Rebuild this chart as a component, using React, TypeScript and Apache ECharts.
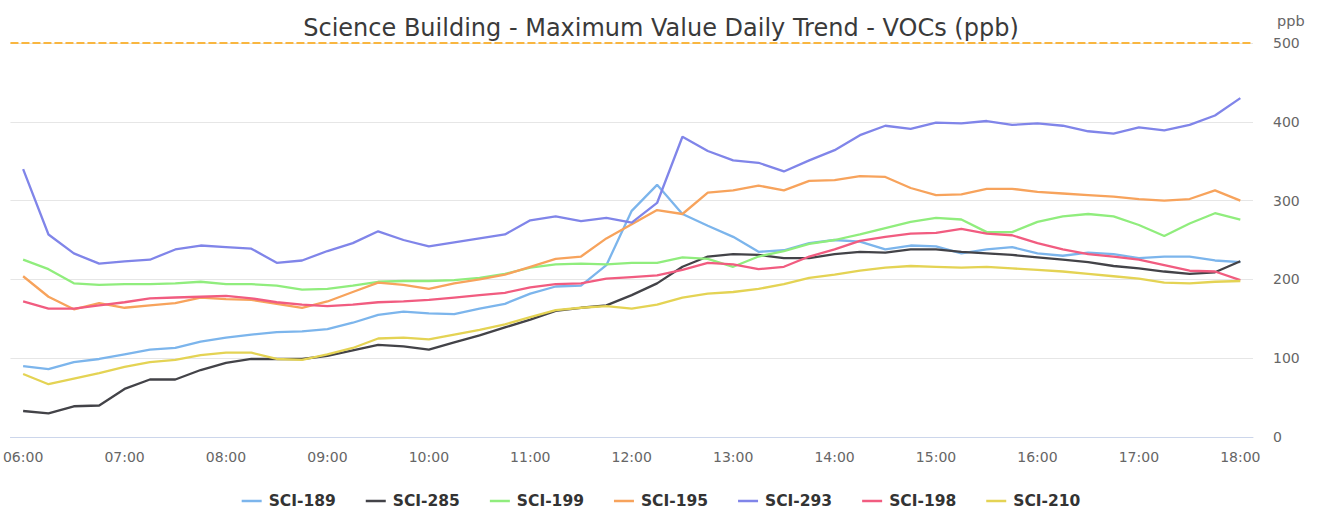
import React, { useEffect, useRef } from "react";
import * as echarts from "echarts";

const times = [
  "06:00", "06:15", "06:30", "06:45", "07:00", "07:15", "07:30", "07:45",
  "08:00", "08:15", "08:30", "08:45", "09:00", "09:15", "09:30", "09:45",
  "10:00", "10:15", "10:30", "10:45", "11:00", "11:15", "11:30", "11:45",
  "12:00", "12:15", "12:30", "12:45", "13:00", "13:15", "13:30", "13:45",
  "14:00", "14:15", "14:30", "14:45", "15:00", "15:15", "15:30", "15:45",
  "16:00", "16:15", "16:30", "16:45", "17:00", "17:15", "17:30", "17:45",
  "18:00",
];

const sci189 = [
  90, 86, 95, 99, 105, 111, 113, 121, 126, 130, 133, 134, 137, 145, 155, 159, 157,
  156, 163, 169, 182, 191, 192, 218, 287, 320, 283, 268, 254, 235, 237, 246, 250,
  248, 238, 243, 242, 233, 238, 241, 233, 230, 234, 232, 227, 229, 229, 224, 222,
];
const sci285 = [
  33, 30, 39, 40, 61, 73, 73, 85, 94, 99, 99, 99, 103, 110, 117, 115, 111,
  120, 129, 139, 149, 160, 164, 167, 180, 195, 216, 229, 232, 231, 227, 227, 232,
  235, 234, 238, 238, 235, 233, 231, 228, 225, 222, 217, 214, 210, 207, 209, 223,
];
const sci199 = [
  225, 213, 195, 193, 194, 194, 195, 197, 194, 194, 192, 187, 188, 192, 197, 198, 198,
  199, 202, 207, 215, 219, 220, 219, 221, 221, 228, 226, 216, 229, 236, 245, 250,
  257, 265, 273, 278, 276, 260, 260, 273, 280, 283, 280, 269, 255, 271, 284, 276,
];
const sci195 = [
  204, 178, 162, 170, 164, 167, 170, 177, 175, 174, 169, 164, 172, 184, 196, 193, 188,
  195, 200, 206, 216, 226, 229, 252, 270, 288, 283, 310, 313, 319, 313, 325, 326,
  331, 330, 316, 307, 308, 315, 315, 311, 309, 307, 305, 302, 300, 302, 313, 300,
];
const sci293 = [
  340, 257, 233, 220, 223, 225, 238, 243, 241, 239, 221, 224, 236, 246, 261, 250, 242,
  247, 252, 257, 275, 280, 274, 278, 272, 297, 381, 363, 351, 348, 337, 351, 364,
  383, 395, 391, 399, 398, 401, 396, 398, 395, 388, 385, 393, 389, 396, 408, 430,
];
const sci198 = [
  172, 163, 163, 167, 171, 176, 177, 178, 179, 176, 171, 168, 166, 168, 171, 172, 174,
  177, 180, 183, 190, 194, 195, 201, 203, 205, 212, 221, 219, 213, 216, 229, 238,
  249, 254, 258, 259, 264, 258, 256, 246, 238, 232, 229, 225, 218, 211, 210, 199,
];
const sci210 = [
  80, 67, 74, 81, 89, 95, 98, 104, 107, 107, 99, 98, 105, 113, 125, 126, 124,
  130, 136, 143, 152, 161, 164, 166, 163, 168, 177, 182, 184, 188, 194, 202, 206,
  211, 215, 217, 216, 215, 216, 214, 212, 210, 207, 204, 201, 196, 195, 197, 198,
];

const seriesNames = ["SCI-189", "SCI-285", "SCI-199", "SCI-195", "SCI-293", "SCI-198", "SCI-210"];
const seriesData = [sci189, sci285, sci199, sci195, sci293, sci198, sci210];
const colors = ["#7cb5ec", "#434348", "#90ed7d", "#f7a35c", "#8085e9", "#f15c80", "#e4d354"];
const yTicks = [0, 100, 200, 300, 400, 500];
const thresholdValue = 500;

const FONT = "DejaVu Sans";

export default function App() {
  const ref = useRef<HTMLDivElement>(null);
  useEffect(() => {
    if (!ref.current) return;
    const chart = echarts.init(ref.current, null, { renderer: "svg" });
    const series: any[] = seriesNames.map((name, i) => ({
      name,
      type: "line",
      data: seriesData[i],
      showSymbol: false,
      symbol: "none",
      lineStyle: { width: 2.3, color: colors[i] },
      itemStyle: { color: colors[i] },
      z: 2,
    }));
    series[0].markLine = {
      silent: true,
      symbol: "none",
      label: { show: false },
      lineStyle: { color: "#f9b640", type: [8, 3], width: 2 },
      data: [{ yAxis: thresholdValue }],
    };
    chart.setOption({
      animation: false,
      color: colors,
      textStyle: { fontFamily: FONT },
      title: {
        text: "Science Building - Maximum Value Daily Trend - VOCs (ppb)",
        left: "center",
        top: 11,
        textStyle: { fontFamily: FONT, fontSize: 24, fontWeight: "normal", color: "#3a3a3a" },
      },
      legend: {
        top: 488,
        left: "center",
        icon: "rect",
        itemWidth: 20,
        itemHeight: 2.5,
        itemGap: 30,
        textStyle: { fontFamily: FONT, fontSize: 15.5, fontWeight: "bold", color: "#333333", padding: [0, 0, 0, 2] },
        data: seriesNames,
      },
      grid: { left: 6, right: 69, top: 43, bottom: 75, containLabel: false },
      xAxis: {
        type: "category",
        data: times,
        boundaryGap: true,
        axisLine: { lineStyle: { color: "#ccd6eb" } },
        axisTick: { alignWithLabel: true, interval: 3, length: 10, lineStyle: { color: "#ccd6eb" } },
        axisLabel: { interval: 3, color: "#666666", fontSize: 14, fontFamily: FONT, margin: 13 },
      },
      yAxis: {
        type: "value",
        position: "right",
        min: yTicks[0],
        max: yTicks[yTicks.length - 1],
        interval: 100,
        name: "ppb",
        nameLocation: "end",
        nameGap: 15,
        nameTextStyle: { color: "#666666", fontSize: 14.5, fontFamily: FONT, align: "left", padding: [0, 0, 0, 24] },
        axisLine: { show: false },
        axisTick: { show: false },
        axisLabel: { color: "#666666", fontSize: 14, fontFamily: FONT, margin: 20 },
        splitLine: { lineStyle: { color: "#e6e6e6", width: 1 } },
      },
      series,
    });
    return () => chart.dispose();
  }, []);
  return (
    <div
      ref={ref}
      style={{ position: "fixed", left: 0, top: 0, width: 1322, height: 512, background: "#ffffff" }}
    />
  );
}
